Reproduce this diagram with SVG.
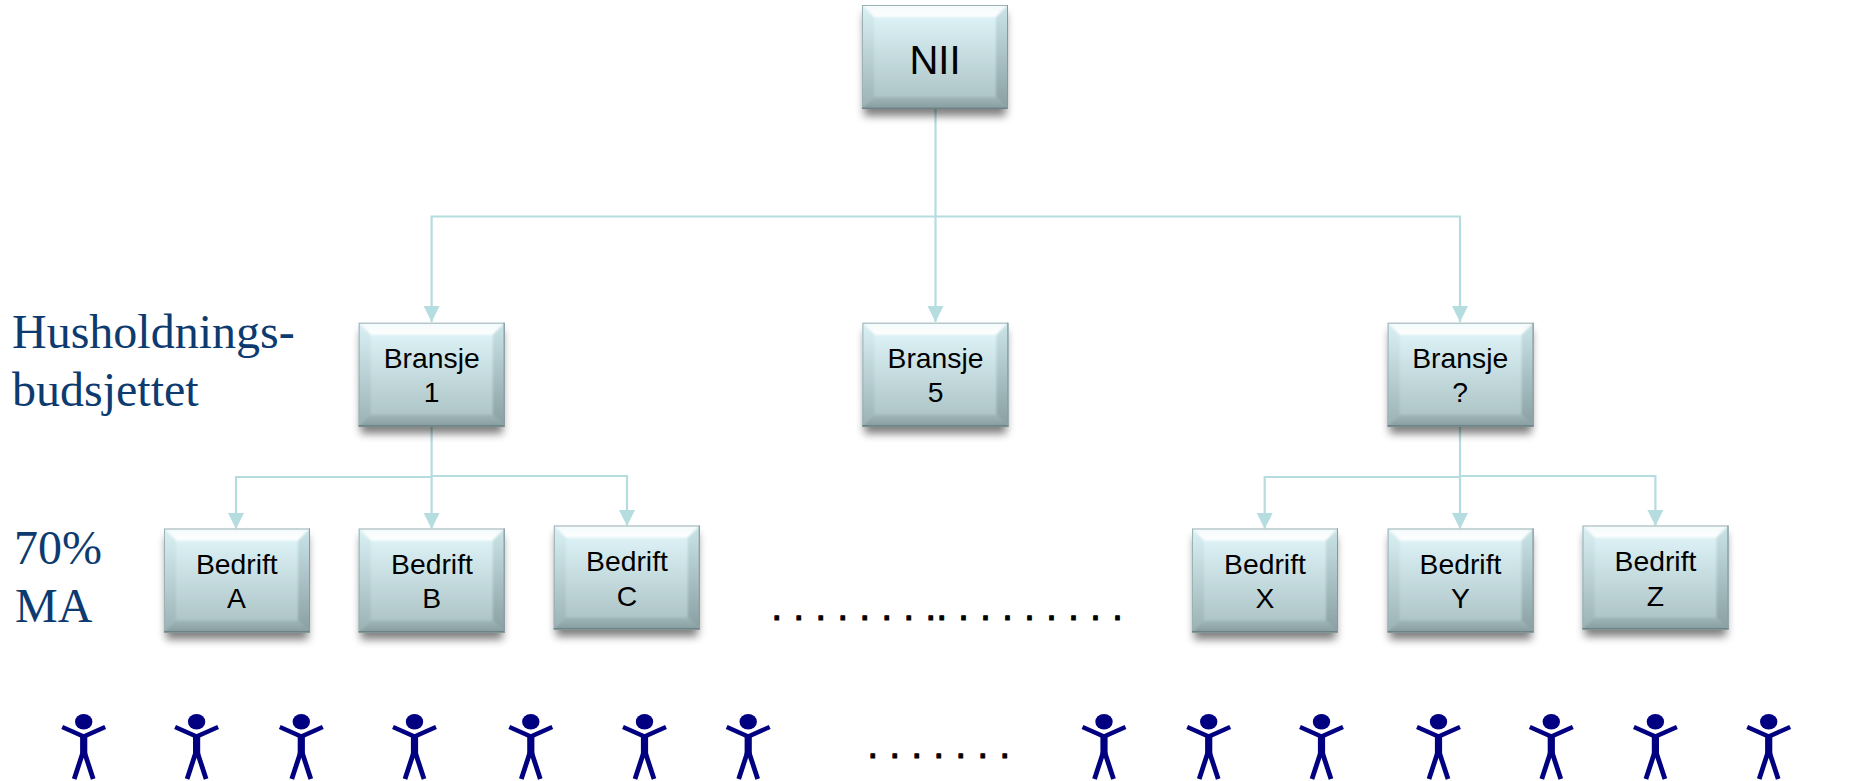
<svg xmlns="http://www.w3.org/2000/svg" xmlns:xlink="http://www.w3.org/1999/xlink" width="1864" height="781" viewBox="0 0 1864 781">
<style>
.lbl{font-family:"Liberation Sans",Arial,sans-serif;font-size:28.3px;fill:#000;text-anchor:middle}
.nii{font-size:40px}
.side{font-family:"Liberation Serif","Times New Roman",serif;font-size:48px;fill:#0d3b70}
.dots{font-family:"Liberation Sans",Arial,sans-serif;font-size:39.6px;fill:#000;stroke:#000;stroke-width:1;stroke-linejoin:round}
.conn{fill:none;stroke:#b5dcdf;stroke-width:2.2;marker-end:url(#arr)}
.conn2{fill:none;stroke:#b5dcdf;stroke-width:2.2}
.person{fill:#000080}
.plimb{stroke:#000080;fill:none}
</style>
<defs>
<linearGradient id="face" x1="0" y1="0" x2="0" y2="1"><stop offset="0" stop-color="#e2f8fc"/><stop offset="1" stop-color="#a8bfc2"/></linearGradient>
<linearGradient id="topb" x1="0" y1="0" x2="0" y2="1"><stop offset="0" stop-color="#eef8f9"/><stop offset="1" stop-color="#ffffff"/></linearGradient>
<linearGradient id="leftb" x1="0" y1="0" x2="0" y2="1"><stop offset="0" stop-color="#dcf3f7"/><stop offset="1" stop-color="#98afb2"/></linearGradient>
<linearGradient id="rightb" x1="0" y1="0" x2="0" y2="1"><stop offset="0" stop-color="#cde7eb"/><stop offset="1" stop-color="#869c9f"/></linearGradient>
<linearGradient id="botb" x1="0" y1="0" x2="0" y2="1"><stop offset="0" stop-color="#a0b7ba"/><stop offset="1" stop-color="#7d9396"/></linearGradient>
<filter id="sh" x="-15%" y="-15%" width="130%" height="140%"><feGaussianBlur stdDeviation="4"/></filter>
<filter id="soft" x="-5%" y="-5%" width="110%" height="110%"><feGaussianBlur stdDeviation="0.9"/></filter>
<clipPath id="bc"><rect width="146" height="104"/></clipPath>
<marker id="arr" markerUnits="userSpaceOnUse" markerWidth="18" markerHeight="18" refX="16.5" refY="9" orient="auto"><path d="M0,0.75L16.5,9L0,17.25Z" fill="#b5dcdf"/></marker>
<g id="box">
<rect x="2" y="8" width="142" height="103" fill="#000" opacity=".5" filter="url(#sh)"/>
<rect width="146" height="104" fill="url(#face)"/>
<g clip-path="url(#bc)"><g filter="url(#soft)">
<path d="M-4,-4H150L134,12H12Z" fill="url(#topb)"/>
<path d="M-4,-4L12,12V92L-4,108Z" fill="url(#leftb)"/>
<path d="M150,-4L134,12V92L150,108Z" fill="url(#rightb)"/>
<path d="M-4,108L12,92H134L150,108Z" fill="url(#botb)"/>
</g></g>
<rect x=".5" y=".5" width="145" height="103" fill="none" stroke="#9db0b3" stroke-width="1"/>
<path d="M0,103.2H146" stroke="#6e8386" stroke-width="1.6"/>
<path d="M145.5,0V104" stroke="#86999c" stroke-width="1"/>
</g>
<g id="person">
<ellipse cx="0" cy="21.7" rx="8.7" ry="7.7" class="person"/>
<path d="M-21.5,27L0,36.5L21.5,27" class="plimb" stroke-width="4.5"/>
<path d="M0,34V54" class="plimb" stroke-width="7.2"/>
<path d="M-1,53L-9.5,79M1,53L9.5,79" class="plimb" stroke-width="4.8"/>
</g>
</defs>

<g id="connectors">
<path class="conn2" d="M935.5,109V216.5"/>
<path class="conn" d="M935.5,216.5H431.6V322"/>
<path class="conn" d="M935.5,216.5V322"/>
<path class="conn" d="M935.5,216.5H1460V322"/>
<path class="conn2" d="M431.6,427V477"/>
<path class="conn" d="M431.6,477H236V529"/>
<path class="conn" d="M431.6,477V529"/>
<path class="conn" d="M431.6,476H627V526"/>
<path class="conn2" d="M1460,427V477"/>
<path class="conn" d="M1460,477H1264.7V529"/>
<path class="conn" d="M1460,477V529"/>
<path class="conn" d="M1460,476H1655.4V526"/>
</g>

<g id="node-nii"><use xlink:href="#box" href="#box" x="862" y="5"/><text class="lbl nii" x="935" y="73.5">NII</text></g>
<g id="node-bransje-1"><use xlink:href="#box" href="#box" x="358.7" y="322.7"/><text class="lbl" x="431.7" y="368">Bransje</text><text class="lbl" x="431.7" y="402">1</text></g>
<g id="node-bransje-5"><use xlink:href="#box" href="#box" x="862.4" y="322.7"/><text class="lbl" x="935.5" y="368">Bransje</text><text class="lbl" x="935.5" y="402">5</text></g>
<g id="node-bransje-q"><use xlink:href="#box" href="#box" x="1387.6" y="322.7"/><text class="lbl" x="1460.2" y="368">Bransje</text><text class="lbl" x="1460.2" y="402">?</text></g>
<g id="node-bedrift-a"><use xlink:href="#box" href="#box" x="164" y="528.5"/><text class="lbl" x="236.8" y="573.5">Bedrift</text><text class="lbl" x="236.5" y="608">A</text></g>
<g id="node-bedrift-b"><use xlink:href="#box" href="#box" x="358.7" y="528.5"/><text class="lbl" x="432" y="573.5">Bedrift</text><text class="lbl" x="431.7" y="608">B</text></g>
<g id="node-bedrift-c"><use xlink:href="#box" href="#box" x="553.8" y="525.5"/><text class="lbl" x="627" y="571">Bedrift</text><text class="lbl" x="627" y="606">C</text></g>
<g id="node-bedrift-x"><use xlink:href="#box" href="#box" x="1192" y="528.5"/><text class="lbl" x="1265" y="573.5">Bedrift</text><text class="lbl" x="1265" y="608">X</text></g>
<g id="node-bedrift-y"><use xlink:href="#box" href="#box" x="1387.6" y="528.5"/><text class="lbl" x="1460.5" y="573.5">Bedrift</text><text class="lbl" x="1460.5" y="608">Y</text></g>
<g id="node-bedrift-z"><use xlink:href="#box" href="#box" x="1582.5" y="525.5"/><text class="lbl" x="1655.5" y="571">Bedrift</text><text class="lbl" x="1655.5" y="606">Z</text></g>

<g id="labels">
<text class="side" x="12" y="348">Husholdnings-</text>
<text class="side" x="12" y="406">budsjettet</text>
<text class="side" x="14" y="564">70%</text>
<text class="side" x="15" y="622">MA</text>
</g>

<g id="dots">
<text class="dots" x="771.2" y="620">. . . . . . . .. . . . . . . . .</text>
<text class="dots" x="867.2" y="758">. . . . . . .</text>
</g>

<g id="people">
<use xlink:href="#person" href="#person" transform="translate(83.7,700)"/>
<use xlink:href="#person" href="#person" transform="translate(196.6,700)"/>
<use xlink:href="#person" href="#person" transform="translate(301.3,700)"/>
<use xlink:href="#person" href="#person" transform="translate(414.5,700)"/>
<use xlink:href="#person" href="#person" transform="translate(530.8,700)"/>
<use xlink:href="#person" href="#person" transform="translate(644.5,700)"/>
<use xlink:href="#person" href="#person" transform="translate(748.2,700)"/>
<use xlink:href="#person" href="#person" transform="translate(1104,700)"/>
<use xlink:href="#person" href="#person" transform="translate(1208.7,700)"/>
<use xlink:href="#person" href="#person" transform="translate(1321.5,700)"/>
<use xlink:href="#person" href="#person" transform="translate(1438.5,700)"/>
<use xlink:href="#person" href="#person" transform="translate(1551.3,700)"/>
<use xlink:href="#person" href="#person" transform="translate(1655.4,700)"/>
<use xlink:href="#person" href="#person" transform="translate(1768.7,700)"/>
</g>
</svg>
